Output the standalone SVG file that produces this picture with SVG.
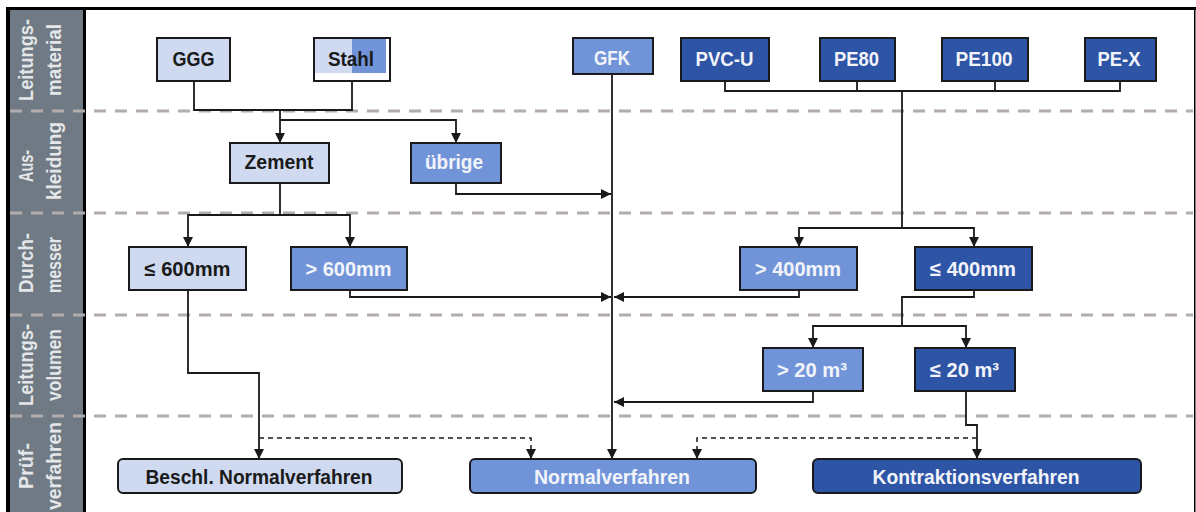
<svg xmlns="http://www.w3.org/2000/svg" width="1196" height="512" viewBox="0 0 1196 512">
<style>
.bx{stroke:#1a1a1a;stroke-width:2}
.lt{fill:#cfdaf1}
.md{fill:#7194d9}
.dk{fill:#2e54a6}
.t{font-family:"Liberation Sans",Arial,sans-serif;font-weight:bold;font-size:20px;text-anchor:middle}
.tb{fill:#1a1a1a}
.tw{fill:#f2f4fa}
.side{font-family:"Liberation Sans",Arial,sans-serif;font-weight:bold;font-size:20px;text-anchor:middle;fill:#e4e6e8}
.sep{stroke:#b2acac;stroke-width:3;stroke-dasharray:12 9;fill:none}
.c{fill:none;stroke:#1a1a1a;stroke-width:1.8}
.ca{fill:none;stroke:#1a1a1a;stroke-width:1.8;marker-end:url(#ah)}
.cd{fill:none;stroke:#1a1a1a;stroke-width:1.5;stroke-dasharray:5 4;marker-end:url(#ah)}
</style>
<defs>
<marker id="ah" viewBox="0 0 10 10" refX="10" refY="5" markerWidth="10" markerHeight="10" markerUnits="userSpaceOnUse" orient="auto">
<path d="M0,0 L10,5 L0,10 z" fill="#1a1a1a"/>
</marker>
</defs>
<rect x="0" y="0" width="1196" height="512" fill="#ffffff"/>
<g id="frame">
<rect x="10" y="10" width="73" height="502" fill="#6f7a84"/>
<rect x="6" y="7" width="1190" height="3" fill="#000"/>
<rect x="6" y="7" width="4" height="505" fill="#000"/>
<rect x="83" y="10" width="3" height="502" fill="#000"/>
<rect x="1194" y="7" width="1.5" height="505" fill="#000"/>
</g>
<g id="separators">
<line class="sep" x1="10" y1="111" x2="1193" y2="111"/>
<line class="sep" x1="10" y1="213" x2="1193" y2="213"/>
<line class="sep" x1="10" y1="315" x2="1193" y2="315"/>
<line class="sep" x1="10" y1="416" x2="1193" y2="416"/>
</g>
<g id="sidebar-labels">
<text class="side" transform="translate(33,60) rotate(-90)" textLength="82" lengthAdjust="spacingAndGlyphs">Leitungs-</text>
<text class="side" transform="translate(61,60) rotate(-90)" textLength="72" lengthAdjust="spacingAndGlyphs">material</text>
<text class="side" transform="translate(33,166) rotate(-90)" textLength="32" lengthAdjust="spacingAndGlyphs">Aus-</text>
<text class="side" transform="translate(61,161) rotate(-90)" textLength="78" lengthAdjust="spacingAndGlyphs">kleidung</text>
<text class="side" transform="translate(33,263) rotate(-90)" textLength="60" lengthAdjust="spacingAndGlyphs">Durch-</text>
<text class="side" transform="translate(61,265) rotate(-90)" textLength="56" lengthAdjust="spacingAndGlyphs">messer</text>
<text class="side" transform="translate(33,365) rotate(-90)" textLength="82" lengthAdjust="spacingAndGlyphs">Leitungs-</text>
<text class="side" transform="translate(61,365) rotate(-90)" textLength="72" lengthAdjust="spacingAndGlyphs">volumen</text>
<text class="side" transform="translate(33,466) rotate(-90)" textLength="46" lengthAdjust="spacingAndGlyphs">Prüf-</text>
<text class="side" transform="translate(61,466) rotate(-90)" textLength="88" lengthAdjust="spacingAndGlyphs">verfahren</text>
</g>
<g id="connectors">
<path class="c" d="M194 81 V110 H352 V81"/>
<path class="ca" d="M280 110 V143"/>
<path class="ca" d="M280 120 H456 V143"/>
<path class="c" d="M280 183 V215"/>
<path class="ca" d="M280 215 H188 V247"/>
<path class="ca" d="M280 215 H350 V247"/>
<path class="ca" d="M456 183 V194 H611"/>
<path class="ca" d="M350 290 V297 H611"/>
<path class="ca" d="M799 290 V297 H614"/>
<path class="c" d="M725 81 V91 H1120 V81"/>
<path class="c" d="M857 81 V91"/>
<path class="c" d="M995 73 V91"/>
<path class="c" d="M902 91 V228"/>
<path class="ca" d="M902 228 H799 V247"/>
<path class="ca" d="M902 228 H974 V247"/>
<path class="c" d="M974 290 V297 H902 V326"/>
<path class="ca" d="M902 326 H813 V348"/>
<path class="ca" d="M902 326 H966 V348"/>
<path class="ca" d="M813 391 V402 H614"/>
<path class="ca" d="M966 391 V425 H977 V459"/>
<path class="ca" d="M612 74 V459"/>
<path class="ca" d="M188 290 V373 H259 V459"/>
<path class="cd" d="M259 438 H531 V459"/>
<path class="cd" d="M977 438 H697 V459"/>
</g>
<g id="node-ggg">
<rect class="bx lt" x="157" y="38" width="73" height="43"/>
<text class="t tb" x="193.5" y="66" textLength="42" lengthAdjust="spacingAndGlyphs">GGG</text>
</g>
<g id="node-stahl">
<rect x="314" y="38" width="76" height="43" fill="#ffffff"/>
<rect x="315" y="39" width="37" height="34" class="lt"/>
<rect x="352" y="39" width="34" height="34" class="md"/>
<rect x="314" y="38" width="76" height="43" fill="none" class="bx"/>
<text class="t tb" x="351" y="66" textLength="46" lengthAdjust="spacingAndGlyphs">Stahl</text>
</g>
<g id="node-gfk">
<rect class="bx md" x="573" y="38" width="80" height="36"/>
<text class="t tw" x="612" y="65" textLength="36" lengthAdjust="spacingAndGlyphs">GFK</text>
</g>
<g id="node-pvcu">
<rect class="bx dk" x="681" y="38" width="88" height="43"/>
<text class="t tw" x="724.5" y="66" textLength="58" lengthAdjust="spacingAndGlyphs">PVC-U</text>
</g>
<g id="node-pe80">
<rect class="bx dk" x="820" y="38" width="75" height="43"/>
<text class="t tw" x="856.5" y="66" textLength="45" lengthAdjust="spacingAndGlyphs">PE80</text>
</g>
<g id="node-pe100">
<rect class="bx dk" x="942" y="38" width="86" height="43"/>
<text class="t tw" x="984" y="66" textLength="57" lengthAdjust="spacingAndGlyphs">PE100</text>
</g>
<g id="node-pex">
<rect class="bx dk" x="1085" y="38" width="71" height="43"/>
<text class="t tw" x="1119" y="66" textLength="43" lengthAdjust="spacingAndGlyphs">PE-X</text>
</g>
<g id="node-zement">
<rect class="bx lt" x="230" y="143" width="99" height="40"/>
<text class="t tb" x="279" y="169" textLength="69" lengthAdjust="spacingAndGlyphs">Zement</text>
</g>
<g id="node-uebrige">
<rect class="bx md" x="411" y="143" width="90" height="40"/>
<text class="t tw" x="454" y="169" textLength="58" lengthAdjust="spacingAndGlyphs">übrige</text>
</g>
<g id="node-le600">
<rect class="bx lt" x="129" y="247" width="117" height="43"/>
<text class="t tb" x="187.5" y="276" textLength="86" lengthAdjust="spacingAndGlyphs">≤ 600mm</text>
</g>
<g id="node-gt600">
<rect class="bx md" x="291" y="247" width="116" height="43"/>
<text class="t tw" x="348.5" y="276" textLength="86" lengthAdjust="spacingAndGlyphs">&gt; 600mm</text>
</g>
<g id="node-gt400">
<rect class="bx md" x="740" y="247" width="117" height="43"/>
<text class="t tw" x="798" y="276" textLength="86" lengthAdjust="spacingAndGlyphs">&gt; 400mm</text>
</g>
<g id="node-le400">
<rect class="bx dk" x="915" y="247" width="117" height="43"/>
<text class="t tw" x="973" y="276" textLength="86" lengthAdjust="spacingAndGlyphs">≤ 400mm</text>
</g>
<g id="node-gt20">
<rect class="bx md" x="763" y="348" width="100" height="43"/>
<text class="t tw" x="812" y="377" textLength="70" lengthAdjust="spacingAndGlyphs">&gt; 20 m³</text>
</g>
<g id="node-le20">
<rect class="bx dk" x="915" y="348" width="100" height="43"/>
<text class="t tw" x="964.5" y="377" textLength="69" lengthAdjust="spacingAndGlyphs">≤ 20 m³</text>
</g>
<g id="node-beschl">
<rect class="bx lt" x="118" y="459" width="284" height="34" rx="5"/>
<text class="t tb" x="259" y="484" textLength="227" lengthAdjust="spacingAndGlyphs">Beschl. Normalverfahren</text>
</g>
<g id="node-normal">
<rect class="bx md" x="470" y="459" width="286" height="34" rx="5"/>
<text class="t tw" x="612" y="484" textLength="156" lengthAdjust="spacingAndGlyphs">Normalverfahren</text>
</g>
<g id="node-kontraktion">
<rect class="bx dk" x="813" y="459" width="328" height="34" rx="5"/>
<text class="t tw" x="976" y="484" textLength="207" lengthAdjust="spacingAndGlyphs">Kontraktionsverfahren</text>
</g>
</svg>
